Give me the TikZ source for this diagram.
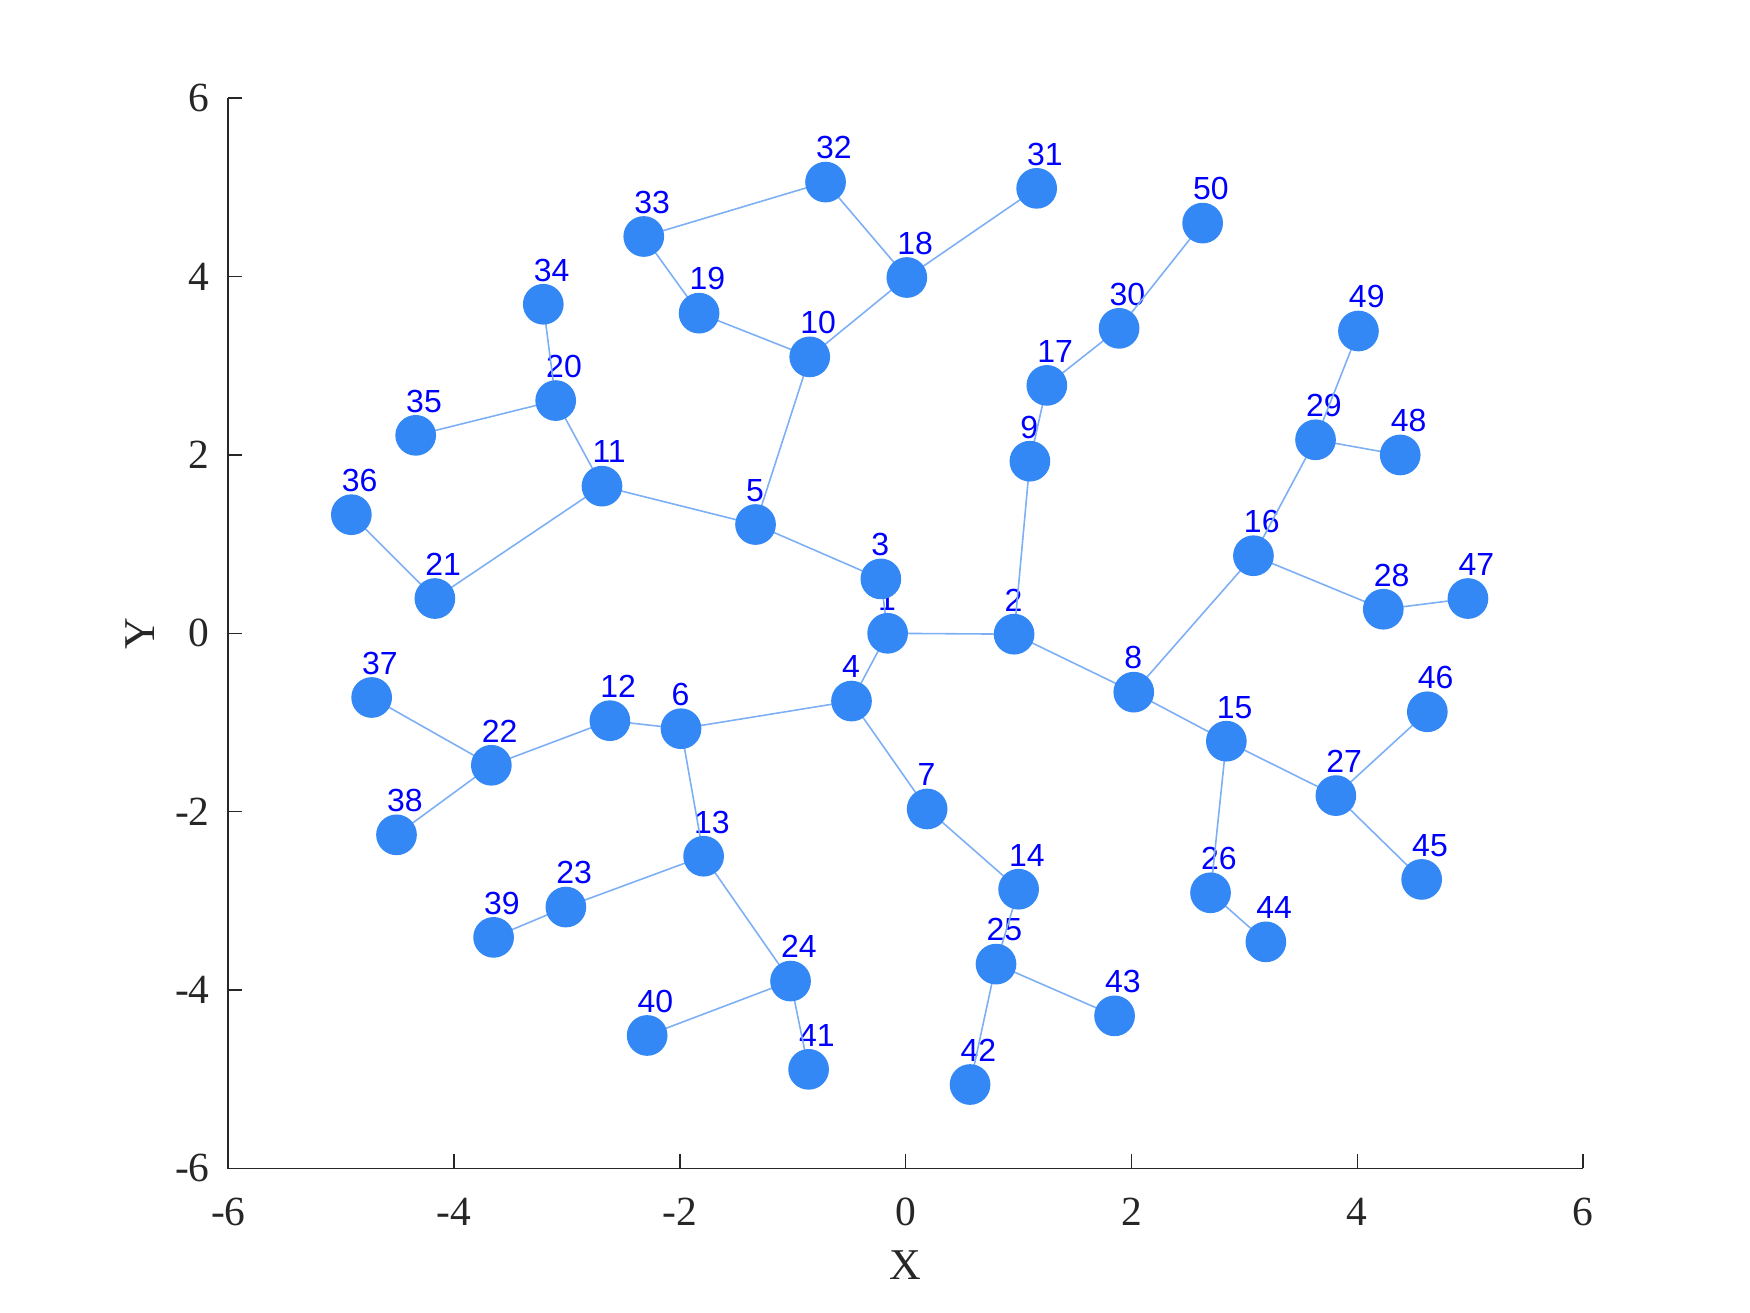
\documentclass[tikz,border=0pt]{standalone}
\usepackage{fontspec}
\setmainfont{Liberation Serif}
\newfontfamily\lblfont{Liberation Sans}
\usetikzlibrary{backgrounds}
\definecolor{nodeblue}{RGB}{51,136,245}
\definecolor{edgeblue}{RGB}{125,175,245}
\definecolor{axisgray}{RGB}{38,38,38}

\begin{document}
\begin{tikzpicture}
[
	vert/.style={circle,fill=nodeblue,inner sep=0pt,minimum size=4.07mm},
	lbl/.style={anchor=base west,inner sep=0pt,text=blue,font=\lblfont\fontsize{9.1}{10}\selectfont},
	link/.style={edgeblue,line width=0.45pt},
	axline/.style={axisgray,line width=0.45pt},
	ticklbl/.style={inner sep=0pt,text=axisgray,font=\fontsize{11.8}{13}\selectfont},
	x=1.129cm,
	y=0.8917cm
]
	\useasboundingbox (-8.022,-7.622) rectangle (7.478,7.102);

	% axes
	\draw[axline] (-6,6) -- (-6,-6) -- (6,-6);
	\foreach \t [count=\k] in {-6,-4,...,6} {
		\draw[axline] (\t,-6) -- ++(0,1.4mm);
		\draw[axline] (-6,\t) -- ++(1.4mm,0);
		\node[ticklbl,anchor=north] (xt\k) at ([yshift=-2.9mm]\t,-6) {\t};
		\node[ticklbl,anchor=east] (yt\k) at ([xshift=-1.8mm]-6,\t) {\t};
	}
	\node[ticklbl,font=\fontsize{12.5}{14}\selectfont] (xlab) at (0,-7.08) {X};
	\node[ticklbl,font=\fontsize{12.5}{14}\selectfont,rotate=90] (ylab) at (-6.78,0) {Y};

	% vertices
	\foreach \i/\x/\y in {1/-0.16/0.00, 2/0.96/-0.01, 3/-0.22/0.61, 4/-0.48/-0.76,
		5/-1.33/1.22, 6/-1.99/-1.07, 7/0.19/-1.97, 8/2.02/-0.66, 9/1.10/1.93,
		10/-0.85/3.10, 11/-2.69/1.65, 12/-2.62/-0.98, 13/-1.79/-2.50, 14/1.00/-2.87,
		15/2.84/-1.21, 16/3.08/0.87, 17/1.25/2.78, 18/0.01/3.99, 19/-1.83/3.59,
		20/-3.10/2.61, 21/-4.17/0.39, 22/-3.67/-1.48, 23/-3.01/-3.07, 24/-1.02/-3.90,
		25/0.80/-3.71, 26/2.70/-2.91, 27/3.81/-1.82, 28/4.23/0.27, 29/3.63/2.17,
		30/1.89/3.42, 31/1.16/4.99, 32/-0.71/5.06, 33/-2.32/4.45, 34/-3.21/3.69,
		35/-4.34/2.22, 36/-4.91/1.33, 37/-4.73/-0.72, 38/-4.51/-2.26, 39/-3.65/-3.41,
		40/-2.29/-4.51, 41/-0.86/-4.89, 42/0.57/-5.06, 43/1.85/-4.29, 44/3.19/-3.46,
		45/4.57/-2.76, 46/4.62/-0.88, 47/4.98/0.39, 48/4.38/2.00, 49/4.01/3.39,
		50/2.63/4.60}
	{
		\node[vert] (n\i) at (\x,\y) {};
		\begin{pgfonlayer}{background}
			\node[lbl] (t\i) at (\x-0.09,\y+0.26) {\i};
		\end{pgfonlayer}
	}

	% edges
	\begin{pgfonlayer}{background}
		\foreach \a/\b in {1/2, 1/3, 3/5, 5/11, 5/10, 10/19, 10/18, 19/33, 33/32, 32/18,
			18/31, 11/20, 11/21, 20/34, 20/35, 21/36, 1/4, 4/6, 4/7, 6/12, 6/13,
			12/22, 22/37, 22/38, 13/23, 13/24, 23/39, 24/40, 24/41, 7/14, 14/25,
			25/42, 25/43, 2/9, 9/17, 17/30, 30/50, 2/8, 8/16, 8/15, 16/29, 16/28,
			29/49, 29/48, 28/47, 15/27, 15/26, 26/44, 27/46, 27/45}
			\draw[link] (n\a.center) -- (n\b.center);
	\end{pgfonlayer}

\end{tikzpicture}
\end{document}
